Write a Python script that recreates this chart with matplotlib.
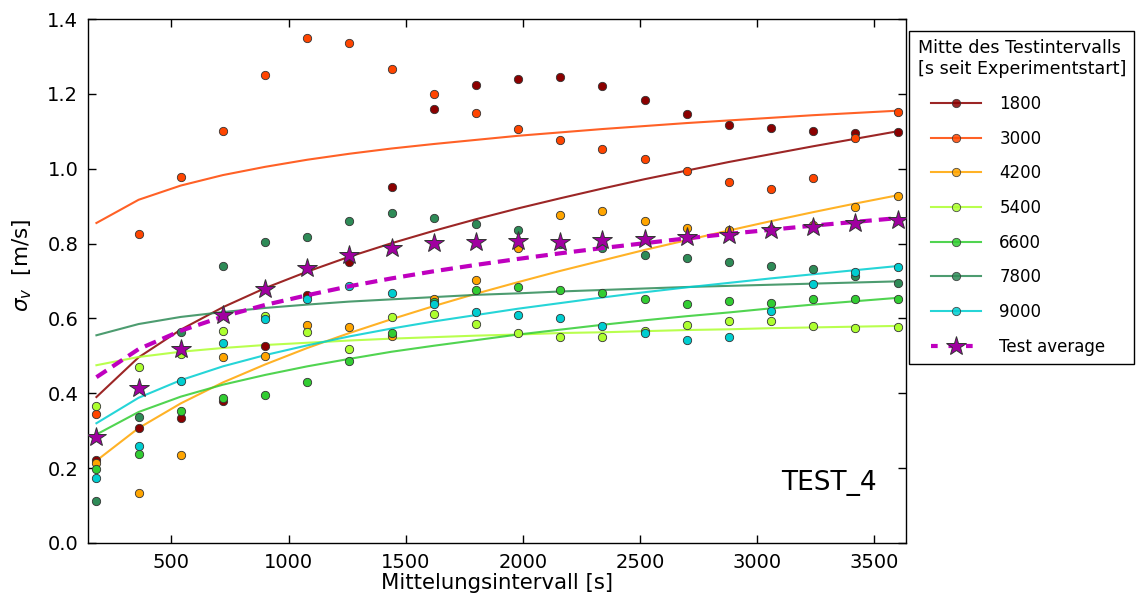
import matplotlib
matplotlib.use("Agg")
import matplotlib.pyplot as plt
from matplotlib.lines import Line2D
from matplotlib.legend_handler import HandlerLine2D

plt.rcParams['font.family'] = ['DejaVu Sans']

# Averaging intervals [s]
x_vals = [180, 360, 540, 720, 900, 1080, 1260, 1440, 1620, 1800,
          1980, 2160, 2340, 2520, 2700, 2880, 3060, 3240, 3420, 3600]

series_labels = ["1800", "3000", "4200", "5400", "6600", "7800", "9000"]

# Measured points (sigma_v in m/s)
pts_1800 = [0.222, 0.306, 0.335, 0.380, 0.527, 0.663, 0.750, 0.951, 1.159, 1.223,
            1.240, 1.244, 1.220, 1.184, 1.145, 1.118, 1.108, 1.102, 1.095, 1.097]
pts_3000 = [0.345, 0.825, 0.979, 1.101, 1.250, 1.350, 1.337, 1.267, 1.200, 1.148,
            1.105, 1.077, 1.053, 1.026, 0.995, 0.965, 0.947, 0.974, 1.081, 1.152]
pts_4200 = [0.215, 0.134, 0.236, 0.498, 0.500, 0.582, 0.576, 0.553, 0.651, 0.703,
            0.787, 0.876, 0.887, 0.860, 0.842, 0.836, 0.840, 0.850, 0.897, 0.927]
pts_5400 = [0.367, 0.471, 0.505, 0.566, 0.607, 0.563, 0.518, 0.605, 0.612, 0.584,
            0.560, 0.550, 0.550, 0.567, 0.583, 0.593, 0.593, 0.581, 0.574, 0.576]
pts_6600 = [0.198, 0.239, 0.353, 0.387, 0.395, 0.430, 0.487, 0.560, 0.645, 0.676,
            0.683, 0.676, 0.669, 0.652, 0.639, 0.647, 0.642, 0.651, 0.651, 0.651]
pts_7800 = [0.112, 0.337, 0.563, 0.741, 0.805, 0.818, 0.860, 0.882, 0.869, 0.852,
            0.836, 0.800, 0.787, 0.769, 0.761, 0.750, 0.740, 0.731, 0.713, 0.695]
pts_9000 = [0.175, 0.260, 0.434, 0.535, 0.598, 0.652, 0.687, 0.669, 0.638, 0.618,
            0.608, 0.600, 0.581, 0.560, 0.542, 0.550, 0.621, 0.692, 0.723, 0.737]
pts_avg = [0.284, 0.413, 0.518, 0.609, 0.679, 0.734, 0.769, 0.787, 0.802, 0.805,
           0.808, 0.805, 0.810, 0.812, 0.818, 0.823, 0.836, 0.845, 0.856, 0.862]

# Fitted curves read at the same intervals
fit_1800 = [0.390, 0.496, 0.570, 0.630, 0.681, 0.725, 0.765, 0.801, 0.834, 0.865,
            0.894, 0.921, 0.947, 0.972, 0.995, 1.018, 1.039, 1.060, 1.080, 1.100]
fit_3000 = [0.855, 0.917, 0.955, 0.983, 1.005, 1.024, 1.040, 1.054, 1.066, 1.077,
            1.088, 1.097, 1.106, 1.114, 1.122, 1.129, 1.136, 1.143, 1.149, 1.155]
fit_4200 = [0.220, 0.307, 0.373, 0.429, 0.477, 0.521, 0.561, 0.598, 0.633, 0.666,
            0.697, 0.727, 0.755, 0.783, 0.809, 0.835, 0.860, 0.884, 0.907, 0.929]
fit_5400 = [0.475, 0.497, 0.511, 0.521, 0.529, 0.535, 0.541, 0.546, 0.550, 0.554,
            0.557, 0.561, 0.563, 0.566, 0.569, 0.571, 0.574, 0.576, 0.578, 0.580]
fit_6600 = [0.290, 0.350, 0.391, 0.423, 0.449, 0.472, 0.492, 0.511, 0.527, 0.542,
            0.557, 0.570, 0.583, 0.595, 0.606, 0.616, 0.627, 0.637, 0.646, 0.655]
fit_7800 = [0.555, 0.585, 0.604, 0.617, 0.628, 0.637, 0.645, 0.651, 0.657, 0.663,
            0.667, 0.672, 0.676, 0.680, 0.684, 0.687, 0.690, 0.693, 0.696, 0.699]
fit_9000 = [0.320, 0.388, 0.435, 0.472, 0.502, 0.528, 0.552, 0.573, 0.592, 0.609,
            0.626, 0.641, 0.656, 0.670, 0.683, 0.695, 0.707, 0.718, 0.729, 0.740]
fit_avg = [0.443, 0.518, 0.567, 0.605, 0.636, 0.662, 0.686, 0.707, 0.726, 0.743,
           0.759, 0.774, 0.788, 0.801, 0.814, 0.826, 0.837, 0.848, 0.858, 0.868]

series_pts = [pts_1800, pts_3000, pts_4200, pts_5400, pts_6600, pts_7800, pts_9000]
series_fit = [fit_1800, fit_3000, fit_4200, fit_5400, fit_6600, fit_7800, fit_9000]
colors = ['#8B0000', '#FF4500', '#FFA500', '#ADFF2F', '#32CD32', '#2E8B57', '#00CED1']

x_ticks = [500, 1000, 1500, 2000, 2500, 3000, 3500]
y_ticks = [0.0, 0.2, 0.4, 0.6, 0.8, 1.0, 1.2, 1.4]

fig = plt.figure(figsize=(11.37, 5.99), dpi=100)
ax = fig.add_axes([88 / 1137, 56 / 599, 818 / 1137, 524 / 599])

handles = []
for lab, pts, fit, c in zip(series_labels, series_pts, series_fit, colors):
    ax.plot(x_vals, fit, '-', color=c, alpha=0.85, lw=1.5, zorder=2)
    ax.plot(x_vals, pts, 'o', color=c, markersize=6, markeredgecolor='#333333',
            markeredgewidth=0.6, zorder=3, linestyle='none')
    handles.append(Line2D([], [], color=c, lw=1.5, alpha=0.85, marker='o', markersize=6,
                          markerfacecolor=c, markeredgecolor='#333333', markeredgewidth=0.6))

ax.plot(x_vals, fit_avg, '--', color='#BF00BF', lw=3, dashes=(2.9, 1.7), zorder=4)
ax.plot(x_vals, pts_avg, '*', color='#A000A0', markersize=15, markeredgecolor='#333333',
        markeredgewidth=0.7, zorder=5, linestyle='none')
handles.append(Line2D([], [], color='#BF00BF', lw=3, dashes=(1.6, 2.6), marker='*',
                      markersize=15, markerfacecolor='#A000A0', markeredgecolor='#333333',
                      markeredgewidth=0.7))

ax.set_xlim(144, 3636)
ax.set_ylim(0, 1.4)
ax.set_xticks(x_ticks)
ax.set_yticks(y_ticks)
ax.set_yticklabels([f"{v:.1f}" for v in y_ticks])
ax.tick_params(direction='in', top=True, right=True, length=6, width=1, labelsize=14)
ax.tick_params(axis='y', pad=7)
ax.tick_params(axis='x', pad=7)
for sp in ax.spines.values():
    sp.set_linewidth(1.0)

ax.set_xlabel("Mittelungsintervall [s]", fontsize=15.3, labelpad=1)
ax.set_ylabel(r"$\sigma_v$  [m/s]", fontsize=15.5)
ax.yaxis.set_label_coords(-0.066, 0.53)

ax.text(0.9645, 0.09, "TEST_4", transform=ax.transAxes, fontsize=19,
        ha='right', va='bottom')

leg = ax.legend(handles, series_labels + ["Test average"],
                title="Mitte des Testintervalls\n[s seit Experimentstart]",
                loc='upper left', bbox_to_anchor=(1.004, 0.977), borderaxespad=0,
                fontsize=12, title_fontsize=12.6, numpoints=1, handlelength=3.8,
                handletextpad=1.1, labelspacing=1.0, borderpad=0.5, fancybox=False,
                framealpha=1, edgecolor='black', alignment='left',
                handler_map={Line2D: HandlerLine2D(xpad=0.8)})
leg.get_frame().set_linewidth(1.0)

fig.savefig("out.png", dpi=100)
